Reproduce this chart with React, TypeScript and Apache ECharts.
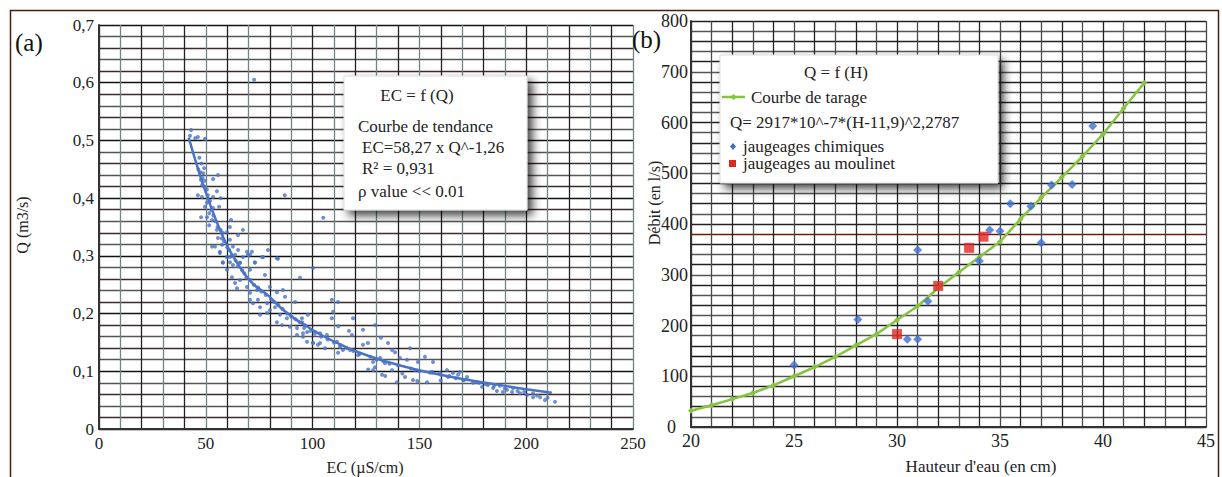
import React, { useEffect, useRef } from "react";
import * as echarts from "echarts";

// ---------- Panel (a): EC vs Q ----------
const ecQSamples: [number, number][] = [
  [43.1, 0.518], [42.6, 0.508], [45, 0.504], [46.3, 0.506], [49.6, 0.503],
  [49.2, 0.452], [48.8, 0.443], [53.4, 0.433], [55.7, 0.44], [47.7, 0.432],
  [48.3, 0.423], [49.2, 0.42], [55.2, 0.412], [46.3, 0.405], [48.2, 0.402],
  [53.4, 0.402], [57, 0.4], [50.6, 0.392], [49.6, 0.385], [53.4, 0.383],
  [56.2, 0.385], [51.6, 0.374], [47.8, 0.367], [50.6, 0.367], [52.9, 0.362],
  [51.6, 0.353], [61.8, 0.362], [61.3, 0.35], [55.2, 0.345], [58, 0.34],
  [59.9, 0.341], [65.1, 0.336], [67.4, 0.345], [55.7, 0.331], [61.3, 0.328],
  [52.9, 0.316], [54.3, 0.316], [57.6, 0.319], [62.7, 0.316], [65.1, 0.31],
  [69.3, 0.307], [79.1, 0.31], [56.6, 0.305], [59.9, 0.298], [63.7, 0.302],
  [67.4, 0.298], [70.7, 0.302], [61.3, 0.289], [66, 0.288], [73, 0.289],
  [76.3, 0.298], [83.3, 0.296], [58, 0.288], [72.6, 0.605], [87, 0.405],
  [105, 0.366], [56.6, 0.307], [61.3, 0.298], [69.7, 0.302], [71.6, 0.307],
  [76.8, 0.298], [83.8, 0.295], [58, 0.289], [62.7, 0.284], [66, 0.288],
  [70.7, 0.276], [73, 0.288], [77.7, 0.267], [94.1, 0.262], [100.2, 0.279],
  [59.9, 0.276], [62.2, 0.263], [63.7, 0.253], [66, 0.258], [64.6, 0.244],
  [69.3, 0.246], [70.7, 0.236], [74, 0.241], [80, 0.246], [83.3, 0.237],
  [86.1, 0.241], [87.1, 0.229], [91.8, 0.22], [70.7, 0.224], [72.1, 0.218],
  [74.4, 0.224], [75.4, 0.211], [78.7, 0.218], [80, 0.206], [82.4, 0.211],
  [84.7, 0.198], [83.3, 0.185], [85.7, 0.18], [88, 0.192], [89.4, 0.177],
  [92.7, 0.175], [95.1, 0.185], [92.7, 0.163], [95.5, 0.16], [97.4, 0.151],
  [100.2, 0.149], [102.5, 0.146], [78.7, 0.201], [75.4, 0.198], [97.4, 0.168],
  [95, 0.192], [96.4, 0.18], [97.8, 0.198], [95.5, 0.166], [100.2, 0.149],
  [103.5, 0.149], [105.8, 0.14], [109, 0.192], [109.6, 0.203], [109, 0.224],
  [111.9, 0.22], [103.5, 0.166], [106.7, 0.163], [111.4, 0.151], [112.8, 0.142],
  [111.9, 0.132], [114.2, 0.137], [117.5, 0.137], [118.9, 0.192], [118.4, 0.163],
  [121.3, 0.128], [123.6, 0.172], [123.6, 0.146], [125.9, 0.149], [129.2, 0.18],
  [128.3, 0.116], [129.2, 0.107], [128.3, 0.102], [131.6, 0.123], [132.5, 0.094],
  [133.9, 0.114], [135.3, 0.149], [137.2, 0.137], [138.6, 0.133], [137.2, 0.102],
  [139.5, 0.081], [140.9, 0.123], [144.2, 0.12], [145.6, 0.14], [143.3, 0.09],
  [147, 0.085], [149.3, 0.116], [147.9, 0.102], [152.6, 0.125], [153.6, 0.081],
  [156.4, 0.116], [155.9, 0.099], [159.6, 0.097], [162.9, 0.102], [163.4, 0.09],
  [165.7, 0.097], [168.1, 0.094], [169, 0.099], [172.3, 0.09], [170.4, 0.085],
  [175.1, 0.08], [176.9, 0.081], [179.3, 0.073], [182.1, 0.076], [184.5, 0.071],
  [187.7, 0.075], [191, 0.068], [193.8, 0.071], [197.1, 0.062], [200.4, 0.059],
  [203.2, 0.055], [206.5, 0.055], [208.8, 0.05], [213.5, 0.047], [189.1, 0.064],
  [186.3, 0.066], [193.4, 0.064], [203.2, 0.062],
  [47, 0.47], [48, 0.46], [46.5, 0.45], [47.5, 0.445], [48.5, 0.435],
  [49.5, 0.43], [50.5, 0.415], [51, 0.405], [52, 0.395], [52.5, 0.38],
  [53.5, 0.37], [54.5, 0.36], [55.5, 0.35], [57, 0.345], [57.5, 0.33],
  [58.5, 0.325], [60, 0.315], [61, 0.31], [62, 0.3], [64, 0.292],
  [65, 0.282], [67, 0.275], [68, 0.27], [69, 0.262], [71, 0.258],
  [72.5, 0.25], [74.5, 0.245], [76, 0.238], [78, 0.232], [80.5, 0.225],
  [82, 0.22], [84, 0.215], [86, 0.208], [88, 0.2], [90, 0.195],
  [92, 0.19], [94, 0.185], [96, 0.175], [99, 0.17], [101, 0.165],
  [104, 0.16], [107, 0.155], [110, 0.15], [113, 0.145], [116, 0.14],
  [119, 0.135], [122, 0.13], [127, 0.125], [130, 0.12], [133, 0.118],
  [136, 0.113], [140, 0.11], [146, 0.105], [150, 0.1], [155, 0.098],
  [160, 0.094], [164, 0.092], [167, 0.088], [171, 0.085], [178, 0.08],
  [181, 0.078], [185, 0.075], [190, 0.07], [196, 0.066], [199, 0.064],
  [205, 0.058], [210, 0.054], [112, 0.178], [117, 0.17], [132, 0.158],
  [126, 0.103], [134, 0.092], [142, 0.096], [149, 0.083], [160, 0.084],
];

const trendEC = [42, 46, 50, 55, 60, 66, 72, 79, 86, 95, 104, 115, 126, 141, 157, 173, 188, 200, 212];
const trendQ = [0.505, 0.455, 0.41, 0.36, 0.318, 0.28, 0.252, 0.232, 0.207, 0.183, 0.163, 0.143, 0.127, 0.11, 0.096, 0.085, 0.076, 0.069, 0.063];

// ---------- Panel (b): Q = f(H) ----------
const tarageH = [20, 21, 22, 23, 24, 25, 26, 27, 28, 29, 30, 31, 32, 33, 34, 35, 36, 37, 38, 39, 40, 41, 42];
const tarageQ = [32, 43, 55, 67, 82, 100, 118, 138, 161, 183, 211, 238, 274, 305, 335, 365, 410, 452, 492, 533, 577, 628, 678];

const chimiquesH = [25.0, 28.1, 30.5, 31.0, 31.0, 31.5, 34.0, 34.5, 35.0, 35.5, 36.5, 37.0, 37.5, 38.5, 39.5];
const chimiquesQ = [122, 212, 173, 173, 349, 248, 327, 388, 386, 440, 435, 363, 477, 478, 593];

const moulinetH = [30.0, 32.0, 33.5, 34.2];
const moulinetQ = [183, 278, 353, 375];

const FONT = '"Liberation Serif", "Times New Roman", serif';
const TXT = "#222";

export default function App() {
  const ref = useRef<HTMLDivElement>(null);

  useEffect(() => {
    document.body.style.margin = "0";
    const chart = echarts.init(ref.current!, undefined, { renderer: "svg" });

    const yLeftColors: string[] = [];
    for (let i = 0; i < 36; i++) yLeftColors.push(i % 5 === 0 ? "#111" : i % 2 ? "#3a2a2a" : "#555");
    const xLeftColors: string[] = [];
    for (let i = 0; i < 26; i++) xLeftColors.push(i % 2 ? "#6f8585" : "#222");
    const yRightColors: string[] = [];
    for (let i = 0; i < 41; i++) yRightColors.push(i % 2 ? "#555" : "#222");
    yRightColors[19] = "#6e1a10";
    yRightColors[7] = "#111";
    const xRightColors: string[] = [];
    for (let i = 0; i < 26; i++) xRightColors.push(i % 2 ? "#4a4a4a" : "#222");

    const labelStyle = { color: TXT, fontFamily: FONT, fontSize: 17 };

    const option: any = {
      animation: false,
      backgroundColor: "#ffffff",
      textStyle: { fontFamily: FONT },
      grid: [
        { left: 99, top: 25, width: 534, height: 404, containLabel: false },
        { left: 691, top: 21, width: 515, height: 406, containLabel: false },
      ],
      xAxis: [
        {
          gridIndex: 0, type: "value", min: 0, max: 250, interval: 10,
          axisLine: { show: true, lineStyle: { color: "#333", width: 2 } },
          axisTick: { show: false },
          axisLabel: { ...labelStyle, margin: 6, formatter: (v: number) => (v % 50 === 0 ? String(v) : "") },
          splitLine: { show: true, lineStyle: { color: xLeftColors, width: 1.3 } },
        },
        {
          gridIndex: 1, type: "value", min: 20, max: 45, interval: 1,
          axisLine: { show: true, lineStyle: { color: "#333", width: 2 } },
          axisTick: { show: false },
          axisLabel: { ...labelStyle, fontSize: 18, margin: 5, formatter: (v: number) => (v % 5 === 0 ? String(v) : "") },
          splitLine: { show: true, lineStyle: { color: xRightColors, width: 1.3 } },
        },
      ],
      yAxis: [
        {
          gridIndex: 0, type: "value", min: 0, max: 0.7, interval: 0.02,
          axisLine: { show: true, lineStyle: { color: "#333", width: 2 } },
          axisTick: { show: false },
          axisLabel: {
            ...labelStyle, margin: 5,
            formatter: (v: number) => {
              const k = Math.round(v * 100);
              if (k % 10 !== 0) return "";
              return k === 0 ? "0" : (k / 100).toFixed(1).replace(".", ",");
            },
          },
          splitLine: { show: true, lineStyle: { color: yLeftColors, width: 1.3 } },
        },
        {
          gridIndex: 1, type: "value", min: 0, max: 800, interval: 20,
          axisLine: { show: true, lineStyle: { color: "#333", width: 2 } },
          axisTick: { show: false },
          axisLabel: {
            ...labelStyle, fontSize: 18, margin: 3,
            formatter: (v: number) => (v === 0 ? "{z|0}" : v % 100 === 0 ? String(v) : ""),
            rich: { z: { fontSize: 18, fontFamily: FONT, color: TXT, padding: [0, 12, 0, 0] } },
          },
          splitLine: { show: true, lineStyle: { color: yRightColors, width: 1.3 } },
        },
      ],
      series: [
        {
          type: "scatter", xAxisIndex: 0, yAxisIndex: 0, data: ecQSamples,
          symbol: "circle", symbolSize: 4, itemStyle: { color: "#4a73c6" }, z: 3,
        },
        {
          type: "line", xAxisIndex: 0, yAxisIndex: 0,
          data: trendEC.map((e, i) => [e, trendQ[i]]),
          smooth: true, showSymbol: false, lineStyle: { color: "#4a73c6", width: 2.5 }, z: 4,
        },
        {
          type: "line", xAxisIndex: 1, yAxisIndex: 1,
          data: tarageH.map((h, i) => [h, tarageQ[i]]),
          symbol: "diamond", symbolSize: 6, showSymbol: true,
          lineStyle: { color: "#86c440", width: 2.5 }, itemStyle: { color: "#86c440" }, z: 3,
        },
        {
          type: "scatter", xAxisIndex: 1, yAxisIndex: 1,
          data: chimiquesH.map((h, i) => [h, chimiquesQ[i]]),
          symbol: "diamond", symbolSize: 9, itemStyle: { color: "#3d6fd1" }, z: 4,
        },
        {
          type: "scatter", xAxisIndex: 1, yAxisIndex: 1,
          data: moulinetH.map((h, i) => [h, moulinetQ[i]]),
          symbol: "rect", symbolSize: 10, itemStyle: { color: "#e0271f" }, z: 5,
        },
      ],
      graphic: [
        {
          type: "rect", z: 0, silent: true,
          shape: { x: 10.5, y: 10.5, width: 1208, height: 480 },
          style: { fill: "none", stroke: "#4a1e14", lineWidth: 1.5 },
        },
        // panel labels
        { type: "text", x: 15, y: 42, z: 50, style: { text: "(a)", fontSize: 25, fontFamily: FONT, fill: "#111", textVerticalAlign: "middle" } },
        { type: "text", x: 632, y: 39, z: 50, style: { text: "(b)", fontSize: 25, fontFamily: FONT, fill: "#111", textVerticalAlign: "middle" } },
        // axis titles
        { type: "text", x: 22, y: 225, rotation: Math.PI / 2, z: 50, style: { text: "Q (m3/s)", fontSize: 16, fontFamily: FONT, fill: TXT, textAlign: "center", textVerticalAlign: "middle" } },
        { type: "text", x: 365, y: 467, z: 50, style: { text: "EC (µS/cm)", fontSize: 16, fontFamily: FONT, fill: TXT, textAlign: "center", textVerticalAlign: "middle" } },
        { type: "text", x: 654, y: 203, rotation: Math.PI / 2, z: 50, style: { text: "Débit (en l/s)", fontSize: 16, fontFamily: FONT, fill: TXT, textAlign: "center", textVerticalAlign: "middle" } },
        { type: "text", x: 981, y: 466, z: 50, style: { text: "Hauteur d'eau (en cm)", fontSize: 17, fontFamily: FONT, fill: TXT, textAlign: "center", textVerticalAlign: "middle" } },
        // legend box (a)
        {
          type: "rect", z: 60, shape: { x: 344, y: 76, width: 183, height: 134 },
          style: { fill: "#ffffff", stroke: "#dddddd", lineWidth: 1, shadowBlur: 10, shadowOffsetX: 5, shadowOffsetY: 5, shadowColor: "rgba(0,0,0,0.75)" },
        },
        { type: "text", x: 417, y: 95, z: 61, style: { text: "EC = f (Q)", fontSize: 17, fontFamily: FONT, fill: TXT, textAlign: "center", textVerticalAlign: "middle" } },
        { type: "text", x: 358, y: 126, z: 61, style: { text: "Courbe de tendance", fontSize: 17, fontFamily: FONT, fill: TXT, textVerticalAlign: "middle" } },
        { type: "text", x: 362, y: 147, z: 61, style: { text: "EC=58,27 x Q^-1,26", fontSize: 17, fontFamily: FONT, fill: TXT, textVerticalAlign: "middle" } },
        { type: "text", x: 362, y: 168, z: 61, style: { text: "R² = 0,931", fontSize: 17, fontFamily: FONT, fill: TXT, textVerticalAlign: "middle" } },
        { type: "text", x: 358, y: 191, z: 61, style: { text: "ρ value << 0.01", fontSize: 17, fontFamily: FONT, fill: TXT, textVerticalAlign: "middle" } },
        // legend box (b)
        {
          type: "rect", z: 60, shape: { x: 720, y: 55, width: 278, height: 128 },
          style: { fill: "#ffffff", stroke: "#dddddd", lineWidth: 1, shadowBlur: 10, shadowOffsetX: 5, shadowOffsetY: 5, shadowColor: "rgba(0,0,0,0.75)" },
        },
        { type: "text", x: 836, y: 72, z: 61, style: { text: "Q = f (H)", fontSize: 17, fontFamily: FONT, fill: TXT, textAlign: "center", textVerticalAlign: "middle" } },
        { type: "line", z: 61, shape: { x1: 722, y1: 97, x2: 745, y2: 97 }, style: { stroke: "#86c440", lineWidth: 2.5 } },
        { type: "polygon", z: 62, shape: { points: [[733.5, 94], [736.5, 97], [733.5, 100], [730.5, 97]] }, style: { fill: "#86c440" } },
        { type: "text", x: 751, y: 97, z: 61, style: { text: "Courbe de tarage", fontSize: 17, fontFamily: FONT, fill: TXT, textVerticalAlign: "middle" } },
        { type: "text", x: 730, y: 122, z: 61, style: { text: "Q= 2917*10^-7*(H-11,9)^2,2787", fontSize: 17, fontFamily: FONT, fill: TXT, textVerticalAlign: "middle" } },
        { type: "polygon", z: 62, shape: { points: [[733, 143], [736, 146.5], [733, 150], [730, 146.5]] }, style: { fill: "#3d6fd1" } },
        { type: "text", x: 743, y: 146, z: 61, style: { text: "jaugeages chimiques", fontSize: 17, fontFamily: FONT, fill: TXT, textVerticalAlign: "middle" } },
        { type: "rect", z: 62, shape: { x: 729, y: 160, width: 7, height: 7 }, style: { fill: "#e0271f" } },
        { type: "text", x: 743, y: 163, z: 61, style: { text: "jaugeages au moulinet", fontSize: 17, fontFamily: FONT, fill: TXT, textVerticalAlign: "middle" } },
      ],
    };

    chart.setOption(option);
    return () => chart.dispose();
  }, []);

  return <div ref={ref} style={{ width: 1222, height: 477 }} />;
}
